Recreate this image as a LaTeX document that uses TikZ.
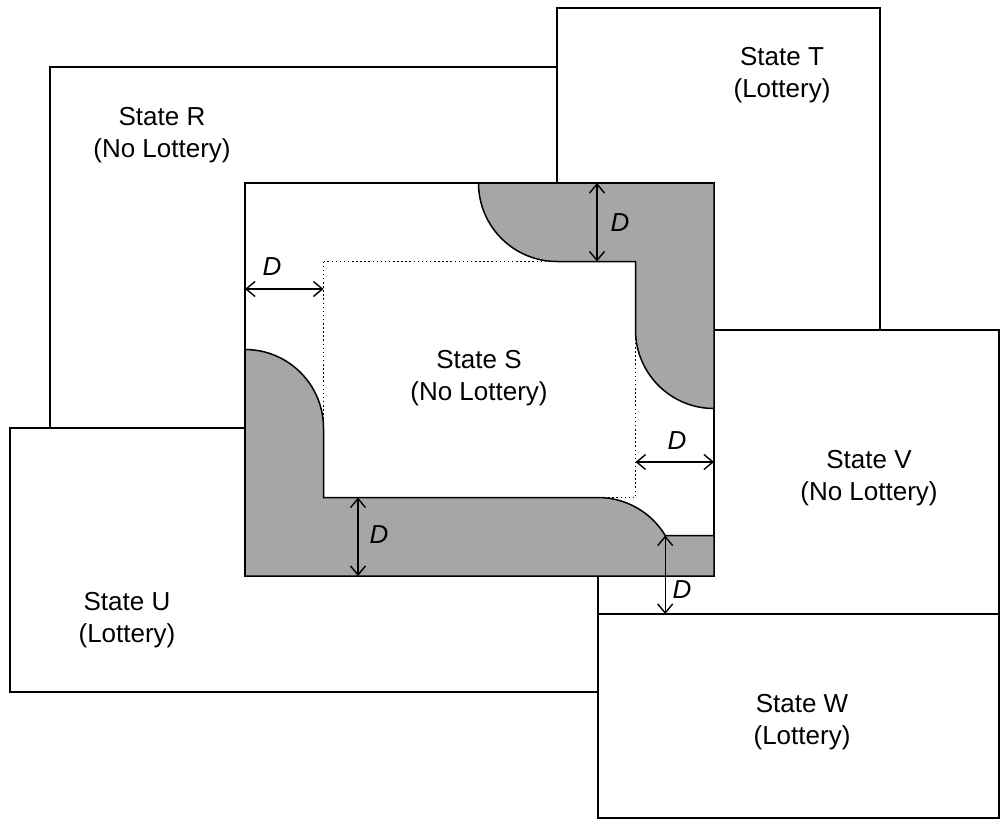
\documentclass[tikz,border=0pt]{standalone}
\usepackage{fontspec}
\setmainfont{Liberation Sans}
\usetikzlibrary{arrows.meta}
\begin{document}
\begin{tikzpicture}[x=1pt,y=-1pt,
  statebox/.style={draw=black,fill=white,line width=1.6pt},
  zone/.style={draw=black,fill=zonegray,line width=1.5pt},
  inner/.style={draw=black,line width=1.5pt,dash pattern=on 1.5pt off 2.6pt},
  dimarrow/.style={draw=black,line width=1.4pt,{Straight Barb[length=9pt,width=15pt,line width=1.4pt]}-{Straight Barb[length=9pt,width=15pt,line width=1.4pt]}},
  label/.style={font=\fontsize{26}{32}\selectfont,align=center,inner sep=0pt},
  dlabel/.style={font=\fontsize{26}{32}\selectfont\itshape,inner sep=0pt}]
\definecolor{zonegray}{RGB}{166,166,166}
\useasboundingbox (0,0) rectangle (1000,830);
% state rectangles
\draw[statebox] (50,67) rectangle (640,428);
\draw[statebox] (557,8) rectangle (880,330);
\draw[statebox] (10,428) rectangle (598,692);
\draw[statebox] (598,330) rectangle (999,614);
\draw[statebox] (598,614) rectangle (999,818);
\draw[statebox] (245,183) rectangle (714,576);
% inner dotted rectangle
\draw[inner] (323.5,261.5) rectangle (635.5,497.5);
% shaded zones
\draw[zone] (478.5,183) arc[start angle=180,end angle=90,radius=78.5]
  -- (635.5,261.5) -- (635.5,330) arc[start angle=180,end angle=90,radius=78.5]
  -- (714,183) -- cycle;
\draw[zone] (245,349.5) arc[start angle=270,end angle=360,radius=78.5]
  -- (323.5,497.5) -- (598,497.5) arc[start angle=270,end angle={360-asin(40.5/78.5)},radius=78.5]
  -- (714,535.5) -- (714,576) -- (245,576) -- cycle;
% labels
\node[label] (R) at (162,135) {State R\\(No Lottery)};
\node[label] (T) at (782,75) {State T\\(Lottery)};
\node[label] (S) at (479,378.5) {State S\\(No Lottery)};
\node[label] (V) at (869,478) {State V\\(No Lottery)};
\node[label] (U) at (127,620) {State U\\(Lottery)};
\node[label] (W) at (802,722) {State W\\(Lottery)};
% dimension arrows
\coordinate (a1s) at (245,289); \coordinate (a1e) at (323.5,289);
\coordinate (a2s) at (597,183); \coordinate (a2e) at (597,261.5);
\coordinate (a3s) at (635.5,462); \coordinate (a3e) at (714,462);
\coordinate (a4s) at (358,497.5); \coordinate (a4e) at (358,576);
\coordinate (a5s) at (665.2,535.5); \coordinate (a5e) at (665.2,614);
\draw[dimarrow] (a1s) -- (a1e);
\draw[dimarrow] (a2s) -- (a2e);
\draw[dimarrow] (a3s) -- (a3e);
\draw[dimarrow] (a4s) -- (a4e);
\draw[dimarrow] (a5s) -- (a5e);
\node[dlabel] (d1) at (272,267) {D};
\node[dlabel] (d2) at (620,223) {D};
\node[dlabel] (d3) at (677,441) {D};
\node[dlabel] (d4) at (379,535) {D};
\node[dlabel] (d5) at (682,590) {D};
\end{tikzpicture}
\end{document}
